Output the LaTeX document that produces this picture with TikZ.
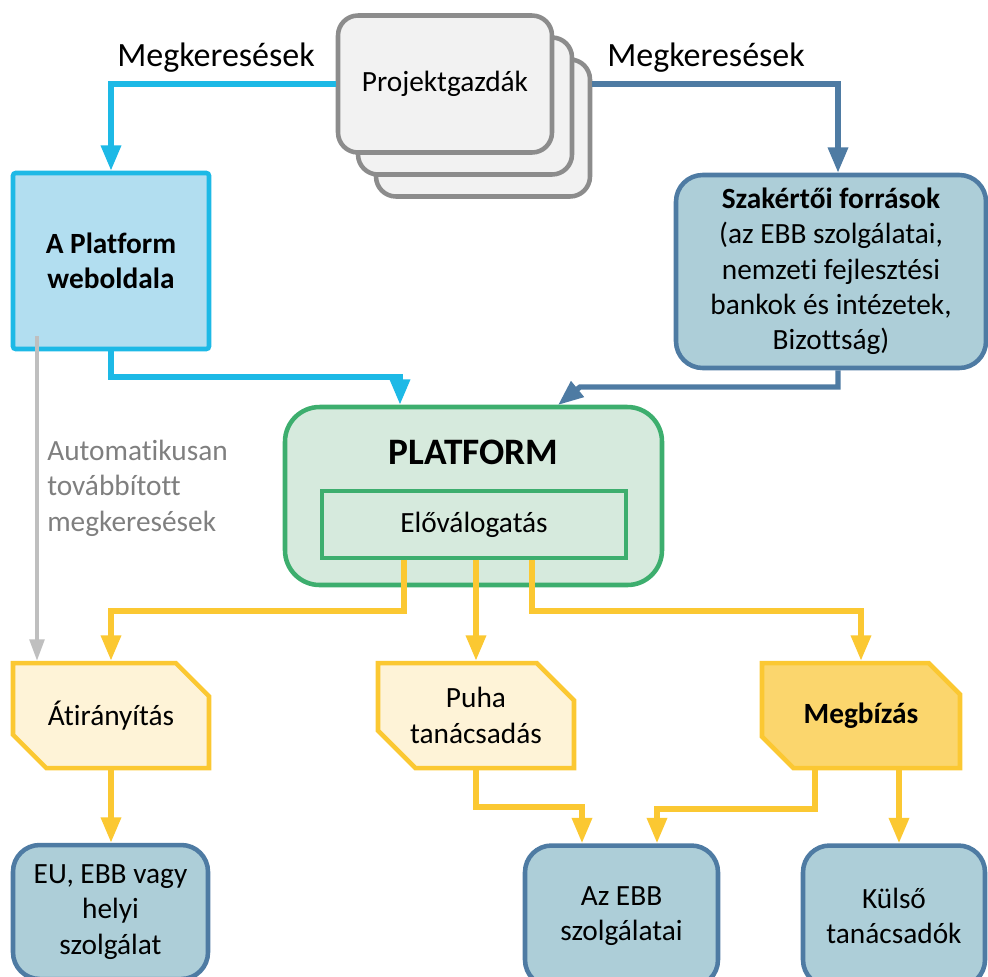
\documentclass[tikz,border=0pt]{standalone}
\usepackage{fontspec}
\setmainfont{Carlito}[Ligatures=NoCommon]
\usetikzlibrary{arrows.meta,shapes.misc}
\definecolor{cyanl}{HTML}{1DB9E6}
\definecolor{webfill}{HTML}{B2DEF0}
\definecolor{steel}{HTML}{4E7BA3}
\definecolor{bgfill}{HTML}{ADCED8}
\definecolor{grn}{HTML}{3DAE6E}
\definecolor{grnfill}{HTML}{D6EADD}
\definecolor{yel}{HTML}{FBC832}
\definecolor{yelfill}{HTML}{FEF3D7}
\definecolor{yeldark}{HTML}{FBD66D}
\definecolor{pggray}{HTML}{8C8C8C}
\definecolor{pgfill}{HTML}{F2F2F2}
\definecolor{lgray}{HTML}{BFBFBF}
\definecolor{txtgray}{HTML}{7F7F7F}
\tikzset{
  base/.style={inner sep=0pt, align=center, font=\fontsize{22}{26.5}\selectfont, line width=3.4pt},
  pgbox/.style={base, draw=pggray, fill=pgfill, rounded corners=15pt, minimum width=160.5pt, minimum height=102.75pt},
  webbox/.style={base, draw=cyanl, fill=webfill, rounded corners=2pt, minimum width=147pt, minimum height=132pt, font=\fontsize{22}{26.5}\selectfont\bfseries},
  bluebox/.style={base, draw=steel, fill=bgfill, rounded corners=20pt},
  platbox/.style={base, draw=grn, fill=grnfill, rounded corners=26pt},
  elobox/.style={base, draw=grn, fill=grnfill, line width=2.6pt, minimum width=228pt, minimum height=50.25pt},
  chbox/.style={base, chamfered rectangle, chamfered rectangle corners={north east,south west}, chamfered rectangle xsep=14pt, chamfered rectangle ysep=14pt, draw=yel, minimum width=147pt, minimum height=78.75pt},
  conn/.style={line width=4pt, -{Triangle[length=19pt,width=14.5pt]}},
  cyanarrow/.style={conn, draw=cyanl},
  steelarrow/.style={conn, draw=steel},
  yarrow/.style={conn, draw=yel},
  grayarrow/.style={line width=2.6pt, draw=lgray, -{Triangle[length=16pt,width=11pt]}},
  lbl/.style={inner sep=0pt, font=\fontsize{25.5}{30}\selectfont},
}
\begin{document}
\begin{tikzpicture}[x=0.75pt,y=-0.75pt]
\useasboundingbox (0,0) rectangle (988,976);
\clip (0,0) rectangle (988,976);
% Project owners stack
\node[pgbox] (pg3) at (483,128) {};
\node[pgbox] (pg2) at (465,106) {};
\node[pgbox] (pg1) at (445,84) {Projektgazdák};
% labels
\node[lbl] (mk1) at (216,58) {Megkeresések};
\node[lbl] (mk2) at (706,58) {Megkeresések};
% top boxes
\node[webbox] (web) at (111,261) {A Platform\\weboldala};
\node[bluebox, minimum width=232.5pt, minimum height=144.75pt] (szak) at (831,271.5) {\textbf{Szakértői források}\\(az EBB szolgálatai,\\nemzeti fejlesztési\\bankok és intézetek,\\Bizottság)};
% platform
\node[platbox, minimum width=282.75pt, minimum height=133.5pt] (platform) at (473.5,496) {};
\node[font=\fontsize{28}{32}\selectfont\bfseries, inner sep=0pt] (plattitle) at (473.5,452) {PLATFORM};
\node[elobox] (elo) at (474,524.5) {Előválogatás};
% yellow boxes
\node[chbox, fill=yelfill] (atir) at (111,715.5) {Átirányítás};
\node[chbox, fill=yelfill] (puha) at (476,715.5) {Puha\\tanácsadás};
\node[chbox, fill=yeldark, minimum width=148.5pt, font=\fontsize{22}{26.5}\selectfont\bfseries] (megb) at (861,715.5) {Megbízás};
% bottom boxes
\node[bluebox, minimum width=146.25pt, minimum height=100.5pt] (eu) at (110.5,912) {EU, EBB vagy\\helyi\\szolgálat};
\node[bluebox, minimum width=144.75pt, minimum height=105.75pt] (azebb) at (621.5,916) {Az EBB\\szolgálatai};
\node[bluebox, minimum width=136.5pt, minimum height=105.75pt] (kulso) at (894,916) {Külső\\tanácsadók};
% auto label
\node[inner sep=0pt, anchor=west, align=left, text=txtgray, font=\fontsize{22}{26.5}\selectfont] (auto) at (47,488) {Automatikusan\\továbbított\\megkeresések};
% connectors top
\draw[cyanarrow] (pg1.west) -| (web.north);
\draw[steelarrow] (pg3.east |- pg1.west) -| ([xshift=5.25pt]szak.north);
\coordinate (c1) at (400,377);
\draw[cyanarrow] (web.south) |- (c1) -- (c1 |- platform.north);
\coordinate (c2) at (580,387);
\coordinate (c2t) at (558,405);
\draw[steelarrow] ([xshift=5.25pt]szak.south) |- (c2) -- (c2t);
\coordinate (g0) at (37,336);
\draw[grayarrow] (g0) -- (g0 |- atir.north);
% yellow connectors
\coordinate (y1) at (404,611);
\draw[yarrow] (y1 |- elo.south) -- (y1) -| (atir.north);
\draw[yarrow] (puha.north |- elo.south) -- (puha.north);
\coordinate (y3) at (532,611);
\draw[yarrow] (y3 |- elo.south) -- (y3) -| (megb.north);
\draw[yarrow] (atir.south) -- (atir.south |- eu.north);
\coordinate (p1) at (582,807);
\draw[yarrow] (puha.south) |- (p1) -- (p1 |- azebb.north);
\coordinate (m1) at (657,809);
\draw[yarrow] ([xshift=-34.5pt]megb.south) |- (m1) -- (m1 |- azebb.north);
\coordinate (m2) at (899,780);
\draw[yarrow] (m2 |- megb.south) -- (m2 |- kulso.north);
\end{tikzpicture}
\end{document}
